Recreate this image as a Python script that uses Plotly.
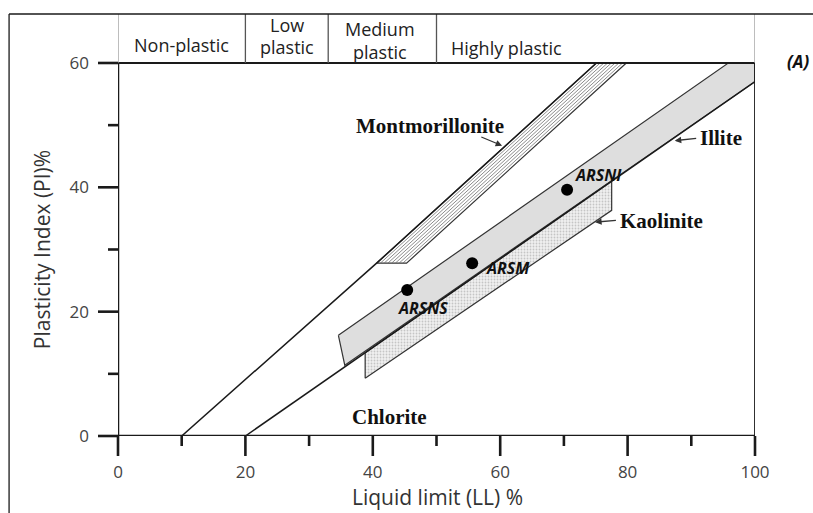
import plotly.graph_objects as go

# ---- data ----
sample_names = ["ARSNS", "ARSM", "ARSNI"]
sample_ll = [45.4, 55.6, 70.5]
sample_pi = [23.5, 27.8, 39.6]

# boundary lines (LL, PI)
upper_line_ll = [10, 40.6, 75.1]
upper_line_pi = [0, 27.8, 60]
lower_line_ll = [20, 100]
lower_line_pi = [0, 57]

# montmorillonite band corners: bottom-left, bottom-right, top-right, top-left
mont_ll = [40.6, 45.3, 79.8, 75.1]
mont_pi = [27.8, 27.8, 60, 60]
# illite band
illite_ll = [34.6, 95.8, 100, 100, 35.6]
illite_pi = [16.2, 60, 60, 57, 11.4]
# kaolinite band
kaol_ll = [38.8, 38.8, 77.5, 77.5]
kaol_pi = [9.3, 13.4, 41.0, 36.3]

# plasticity classes (header)
class_bounds = [0, 20, 33, 50, 100]

x_ticks = [0, 20, 40, 60, 80, 100]
x_minor = [10, 30, 50, 70, 90]
y_ticks = [0, 20, 40, 60]
y_minor = [10, 30, 50]

X_RANGE = [0, 100]
Y_RANGE = [0, 67.88]
Y_TOP = Y_RANGE[1]
DARK = "#1a1a1a"
SANS = "Open Sans"
SERIF = "Liberation Serif"

fig = go.Figure()

# illite band
fig.add_trace(go.Scatter(x=illite_ll + [illite_ll[0]], y=illite_pi + [illite_pi[0]],
                         mode="lines", fill="toself", fillcolor="#dedede",
                         line=dict(color="#333", width=1.2), hoverinfo="skip"))
# kaolinite band (stippled)
fig.add_trace(go.Scatter(x=kaol_ll + [kaol_ll[0]], y=kaol_pi + [kaol_pi[0]],
                         mode="lines", fill="toself",
                         fillpattern=dict(shape=".", fgcolor="#999999", bgcolor="#f0f0f0",
                                          size=3, solidity=0.3),
                         line=dict(color="#333", width=1.2), hoverinfo="skip"))
# montmorillonite band
fig.add_trace(go.Scatter(x=mont_ll + [mont_ll[0]], y=mont_pi + [mont_pi[0]],
                         mode="lines", fill="toself", fillcolor="white",
                         line=dict(color="#333", width=1.2), hoverinfo="skip"))
# hatching lines inside montmorillonite band
n_hatch = 7
hx, hy = [], []
for k in range(1, n_hatch + 1):
    t = k / (n_hatch + 1)
    x0 = mont_ll[0] + t * (mont_ll[1] - mont_ll[0])
    x1 = mont_ll[3] + t * (mont_ll[2] - mont_ll[3])
    hx += [x0, x1, None]
    hy += [mont_pi[0], mont_pi[3], None]
fig.add_trace(go.Scatter(x=hx, y=hy, mode="lines", line=dict(color="#6e6e6e", width=0.8),
                         hoverinfo="skip"))

# boundary lines
fig.add_trace(go.Scatter(x=upper_line_ll, y=upper_line_pi, mode="lines",
                         line=dict(color=DARK, width=1.5), hoverinfo="skip"))
fig.add_trace(go.Scatter(x=lower_line_ll, y=lower_line_pi, mode="lines",
                         line=dict(color=DARK, width=1.5), hoverinfo="skip"))

# samples
fig.add_trace(go.Scatter(x=sample_ll, y=sample_pi, mode="markers",
                         marker=dict(color="black", size=12), hoverinfo="skip"))

shapes = []
# axes / plot frame
shapes.append(dict(type="line", xref="x", yref="y", x0=0, x1=100, y0=0, y1=0,
                   line=dict(color=DARK, width=2.5)))
shapes.append(dict(type="line", xref="x", yref="y", x0=0, x1=0, y0=0, y1=60,
                   line=dict(color=DARK, width=2.5)))
shapes.append(dict(type="line", xref="x", yref="y", x0=0, x1=100, y0=60, y1=60,
                   line=dict(color=DARK, width=2.2)))
shapes.append(dict(type="line", xref="x", yref="y", x0=100, x1=100, y0=0, y1=60,
                   line=dict(color=DARK, width=1.8)))

def xp(v):
    return (v - X_RANGE[0]) / (X_RANGE[1] - X_RANGE[0])

def yp(v):
    return (v - Y_RANGE[0]) / (Y_RANGE[1] - Y_RANGE[0])

# ticks (pixel-length, placed on paper so they are not clipped)
for v, ln in [(v, 20) for v in x_ticks] + [(v, 10) for v in x_minor]:
    shapes.append(dict(type="line", xref="paper", yref="paper", ysizemode="pixel",
                       yanchor=yp(0), x0=xp(v), x1=xp(v), y0=0, y1=-ln,
                       line=dict(color=DARK, width=2.6)))
for v, ln in [(v, 20) for v in y_ticks] + [(v, 10) for v in y_minor]:
    shapes.append(dict(type="line", xref="paper", yref="paper", xsizemode="pixel",
                       xanchor=xp(0), x0=0, x1=-ln, y0=yp(v), y1=yp(v),
                       line=dict(color=DARK, width=2.6)))
# header dividers
for b in class_bounds:
    col = "#9a9a9a" if b in (0, 100) else "#555555"
    shapes.append(dict(type="line", xref="x", yref="y", x0=b, x1=b, y0=60, y1=Y_TOP,
                       line=dict(color=col, width=1.3)))
# outer frame
shapes.append(dict(type="line", xref="paper", yref="paper", x0=-0.171, x1=1.1, y0=1, y1=1,
                   line=dict(color=DARK, width=1.3)))
shapes.append(dict(type="line", xref="paper", yref="paper", x0=-0.171, x1=-0.171, y0=1, y1=-0.2,
                   line=dict(color=DARK, width=1.3)))

ann = []
def txt(x, y, s, size=18, font=SANS, color="#222", xref="x", yref="y", **kw):
    ann.append(dict(x=x, y=y, xref=xref, yref=yref, text=s, showarrow=False,
                    xanchor="center", yanchor="middle",
                    font=dict(family=font, size=size, color=color), **kw))

# header text
txt(9.9, 62.9, "Non-plastic")
txt(26.5, 66.1, "Low")
txt(26.5, 62.6, "plastic")
txt(41.1, 65.5, "Medium")
txt(41.1, 61.8, "plastic")
txt(61.0, 62.4, "Highly plastic")

# mineral labels
txt(49.0, 49.8, "<b>Montmorillonite</b>", size=21, font=SERIF, color="#111")
txt(94.6, 48.0, "<b>Illite</b>", size=21, font=SERIF, color="#111")
txt(85.3, 34.6, "<b>Kaolinite</b>", size=21, font=SERIF, color="#111")
txt(42.6, 3.0, "<b>Chlorite</b>", size=21, font=SERIF, color="#111")

# sample labels
label_pos = {"ARSNI": (75.5, 42.0), "ARSM": (61.2, 27.0), "ARSNS": (47.9, 20.6)}
for n in sample_names:
    lx, ly = label_pos[n]
    txt(lx, ly, "<b><i>" + n + "</i></b>", size=16, color="#111")

# (A)
txt(1.0675, 60.2, "<b><i>(A)</i></b>", size=17, xref="paper", color="#111")

# axis titles
txt(50.1, -0.1445, "Liquid limit (LL) %", size=21, yref="paper", color="#333")
txt(-0.1193, 29.9, "Plasticity Index (PI)%", size=21, xref="paper", color="#333",
    textangle=-90)

# arrows
arrows = [((60.3, 46.7), (56.8, 48.2)),   # montmorillonite
          ((87.4, 47.5), (91.0, 47.9)),   # illite
          ((74.9, 34.4), (78.4, 34.7))]   # kaolinite
for (hx_, hy_), (tx, ty) in arrows:
    ann.append(dict(x=hx_, y=hy_, ax=tx, ay=ty, xref="x", yref="y", axref="x", ayref="y",
                    text="", showarrow=True, arrowhead=2, arrowsize=1, arrowwidth=1.3,
                    arrowcolor="#333"))

fig.update_layout(
    width=813, height=513,
    margin=dict(l=118, r=58, t=14, b=77),
    paper_bgcolor="white", plot_bgcolor="white",
    showlegend=False,
    shapes=shapes, annotations=ann,
    xaxis=dict(range=X_RANGE, tickvals=x_ticks, showgrid=False, zeroline=False,
               showline=False, ticks="", ticklabelstandoff=24,
               tickfont=dict(family=SANS, size=17, color="#444")),
    yaxis=dict(range=Y_RANGE, tickvals=y_ticks, showgrid=False, zeroline=False,
               showline=False, ticks="", ticklabelstandoff=28,
               tickfont=dict(family=SANS, size=17, color="#444")),
)

fig.write_html("out.html")
